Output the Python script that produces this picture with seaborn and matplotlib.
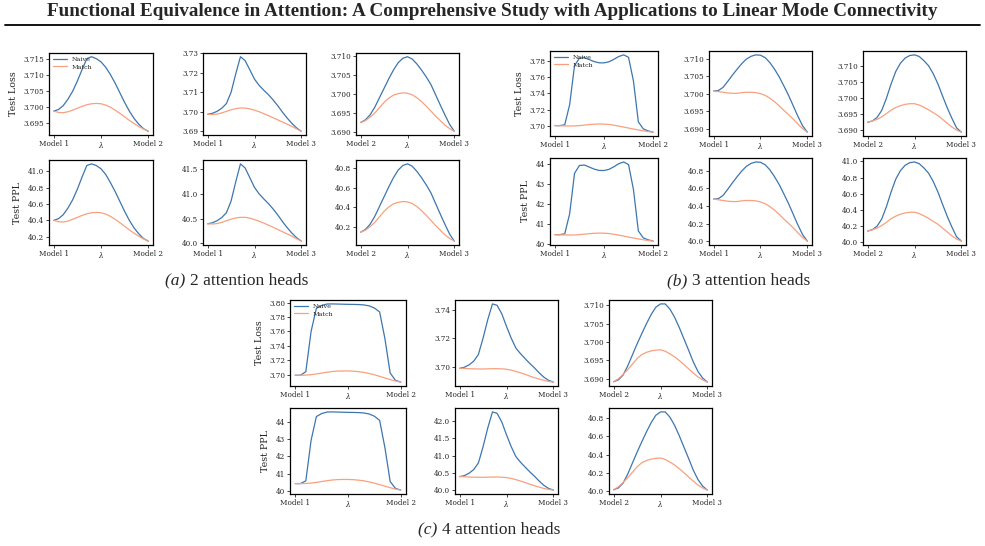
import pandas as pd
import matplotlib
matplotlib.use("Agg")
import matplotlib.pyplot as plt
import seaborn as sns
from matplotlib.lines import Line2D
from matplotlib.ticker import FixedLocator, FormatStrFormatter

# interpolation coefficient between two models
lam = [0.00, 0.05, 0.10, 0.15, 0.20, 0.25, 0.30, 0.35, 0.40, 0.45, 0.50,
       0.55, 0.60, 0.65, 0.70, 0.75, 0.80, 0.85, 0.90, 0.95, 1.00]

# ---- (a) 2 attention heads ----
a_loss_12_naive = [3.6988, 3.6993, 3.7005, 3.7025, 3.7050, 3.7082, 3.7118, 3.7152, 3.7158, 3.7152, 3.7142,
                   3.7125, 3.7102, 3.7075, 3.7045, 3.7015, 3.6988, 3.6965, 3.6947, 3.6933, 3.6925]
a_loss_12_match = [3.6988, 3.6984, 3.6983, 3.6986, 3.6991, 3.6997, 3.7003, 3.7008, 3.7011, 3.7012, 3.7011,
                   3.7007, 3.7000, 3.6991, 3.6981, 3.6970, 3.6959, 3.6949, 3.6940, 3.6932, 3.6925]
a_loss_13_naive = [3.6987, 3.6992, 3.7002, 3.7018, 3.7042, 3.7100, 3.7195, 3.7282, 3.7262, 3.7215, 3.7167,
                   3.7135, 3.7110, 3.7087, 3.7060, 3.7030, 3.6997, 3.6967, 3.6940, 3.6917, 3.6900]
a_loss_13_match = [3.6987, 3.6986, 3.6988, 3.6994, 3.7002, 3.7010, 3.7016, 3.7019, 3.7019, 3.7015, 3.7008,
                   3.7000, 3.6990, 3.6980, 3.6969, 3.6958, 3.6947, 3.6936, 3.6925, 3.6912, 3.6900]
a_loss_23_naive = [3.6925, 3.6932, 3.6945, 3.6965, 3.6990, 3.7015, 3.7040, 3.7063, 3.7082, 3.7094, 3.7098,
                   3.7092, 3.7079, 3.7063, 3.7045, 3.7025, 3.6998, 3.6971, 3.6945, 3.6920, 3.6902]
a_loss_23_match = [3.6925, 3.6930, 3.6939, 3.6950, 3.6964, 3.6978, 3.6989, 3.6997, 3.7001, 3.7003, 3.7002,
                   3.6998, 3.6990, 3.6980, 3.6968, 3.6955, 3.6942, 3.6930, 3.6918, 3.6909, 3.6902]
a_ppl_12_naive = [40.398, 40.419, 40.467, 40.548, 40.650, 40.780, 40.930, 41.070, 41.090, 41.070, 41.030,
                  40.960, 40.860, 40.750, 40.629, 40.508, 40.398, 40.305, 40.233, 40.176, 40.144]
a_ppl_12_match = [40.398, 40.382, 40.378, 40.390, 40.411, 40.435, 40.459, 40.479, 40.491, 40.496, 40.491,
                  40.475, 40.447, 40.411, 40.370, 40.326, 40.281, 40.241, 40.204, 40.172, 40.144]
a_ppl_13_naive = [40.394, 40.415, 40.455, 40.520, 40.617, 40.854, 41.244, 41.604, 41.521, 41.326, 41.128,
                  40.997, 40.894, 40.800, 40.690, 40.569, 40.435, 40.314, 40.205, 40.113, 40.044]
a_ppl_13_match = [40.394, 40.390, 40.398, 40.423, 40.455, 40.487, 40.512, 40.524, 40.524, 40.508, 40.479,
                  40.447, 40.407, 40.366, 40.322, 40.277, 40.233, 40.189, 40.145, 40.092, 40.044]
a_ppl_23_naive = [40.145, 40.173, 40.225, 40.306, 40.407, 40.508, 40.609, 40.703, 40.780, 40.829, 40.845,
                  40.821, 40.768, 40.703, 40.630, 40.548, 40.439, 40.330, 40.225, 40.125, 40.053]
a_ppl_23_match = [40.145, 40.165, 40.201, 40.245, 40.302, 40.358, 40.403, 40.435, 40.451, 40.459, 40.455,
                  40.439, 40.407, 40.366, 40.318, 40.265, 40.213, 40.165, 40.117, 40.081, 40.053]

# ---- (b) 3 attention heads ----
b_loss_12_naive = [3.7005, 3.7005, 3.7015, 3.7260, 3.7740, 3.7830, 3.7835, 3.7812, 3.7788, 3.7773, 3.7772,
                   3.7785, 3.7815, 3.7850, 3.7870, 3.7840, 3.7550, 3.7050, 3.6965, 3.6940, 3.6925]
b_loss_12_match = [3.7005, 3.7003, 3.7001, 3.7000, 3.7001, 3.7005, 3.7011, 3.7017, 3.7022, 3.7024, 3.7023,
                   3.7019, 3.7010, 3.6999, 3.6987, 3.6975, 3.6963, 3.6952, 3.6941, 3.6932, 3.6925]
b_loss_13_naive = [3.7008, 3.7009, 3.7018, 3.7035, 3.7053, 3.7070, 3.7086, 3.7099, 3.7107, 3.7111, 3.7110,
                   3.7103, 3.7089, 3.7070, 3.7048, 3.7022, 3.6995, 3.6965, 3.6935, 3.6908, 3.6890]
b_loss_13_match = [3.7008, 3.7006, 3.7004, 3.7002, 3.7001, 3.7001, 3.7003, 3.7004, 3.7004, 3.7003, 3.7000,
                   3.6995, 3.6987, 3.6977, 3.6965, 3.6952, 3.6940, 3.6927, 3.6913, 3.6900, 3.6890]
b_loss_23_naive = [3.6923, 3.6927, 3.6938, 3.6960, 3.6998, 3.7043, 3.7082, 3.7108, 3.7124, 3.7132, 3.7134,
                   3.7129, 3.7116, 3.7100, 3.7075, 3.7043, 3.7005, 3.6968, 3.6935, 3.6905, 3.6892]
b_loss_23_match = [3.6923, 3.6927, 3.6932, 3.6940, 3.6950, 3.6961, 3.6969, 3.6975, 3.6979, 3.6981, 3.6981,
                   3.6977, 3.6970, 3.6962, 3.6953, 3.6944, 3.6932, 3.6920, 3.6908, 3.6898, 3.6892]
b_ppl_12_naive = [40.467, 40.467, 40.508, 41.512, 43.554, 43.947, 43.969, 43.868, 43.763, 43.698, 43.693,
                  43.750, 43.881, 44.035, 44.124, 43.991, 42.734, 40.650, 40.306, 40.205, 40.145]
b_ppl_12_match = [40.467, 40.459, 40.451, 40.447, 40.451, 40.467, 40.492, 40.516, 40.536, 40.544, 40.540,
                  40.524, 40.487, 40.443, 40.395, 40.346, 40.298, 40.253, 40.209, 40.173, 40.145]
b_ppl_13_naive = [40.479, 40.483, 40.520, 40.589, 40.662, 40.731, 40.796, 40.849, 40.882, 40.898, 40.894,
                  40.866, 40.809, 40.731, 40.642, 40.536, 40.427, 40.306, 40.185, 40.077, 40.005]
b_ppl_13_match = [40.479, 40.471, 40.463, 40.455, 40.451, 40.451, 40.459, 40.463, 40.463, 40.459, 40.447,
                  40.427, 40.394, 40.354, 40.306, 40.253, 40.205, 40.153, 40.097, 40.044, 40.005]
b_ppl_23_naive = [40.137, 40.153, 40.197, 40.286, 40.439, 40.621, 40.780, 40.886, 40.952, 40.984, 40.993,
                  40.972, 40.919, 40.854, 40.751, 40.621, 40.467, 40.318, 40.185, 40.065, 40.013]
b_ppl_23_match = [40.137, 40.153, 40.173, 40.205, 40.245, 40.290, 40.322, 40.346, 40.362, 40.370, 40.370,
                  40.354, 40.326, 40.294, 40.257, 40.221, 40.173, 40.125, 40.077, 40.037, 40.013]

# ---- (c) 4 attention heads ----
c_loss_12_naive = [3.6990, 3.6990, 3.7040, 3.7600, 3.7920, 3.7960, 3.7980, 3.7982, 3.7980, 3.7978, 3.7976,
                   3.7975, 3.7973, 3.7968, 3.7955, 3.7925, 3.7870, 3.7500, 3.7020, 3.6920, 3.6895]
c_loss_12_match = [3.6990, 3.6990, 3.6992, 3.6998, 3.7008, 3.7020, 3.7032, 3.7042, 3.7048, 3.7050, 3.7050,
                   3.7047, 3.7040, 3.7030, 3.7015, 3.6997, 3.6975, 3.6952, 3.6930, 3.6910, 3.6895]
c_loss_13_naive = [3.6988, 3.6995, 3.7012, 3.7038, 3.7085, 3.7200, 3.7330, 3.7440, 3.7430, 3.7370, 3.7282,
                   3.7200, 3.7130, 3.7090, 3.7055, 3.7021, 3.6990, 3.6955, 3.6925, 3.6903, 3.6891]
c_loss_13_match = [3.6988, 3.6987, 3.6985, 3.6984, 3.6983, 3.6983, 3.6984, 3.6985, 3.6985, 3.6984, 3.6981,
                   3.6975, 3.6966, 3.6956, 3.6945, 3.6933, 3.6922, 3.6912, 3.6903, 3.6896, 3.6891]
c_loss_23_naive = [3.6892, 3.6897, 3.6910, 3.6935, 3.6965, 3.6995, 3.7023, 3.7050, 3.7075, 3.7095, 3.7104,
                   3.7104, 3.7090, 3.7068, 3.7040, 3.7009, 3.6978, 3.6946, 3.6920, 3.6902, 3.6891]
c_loss_23_match = [3.6892, 3.6900, 3.6912, 3.6925, 3.6940, 3.6955, 3.6966, 3.6972, 3.6976, 3.6978, 3.6979,
                   3.6975, 3.6968, 3.6960, 3.6950, 3.6939, 3.6927, 3.6916, 3.6905, 3.6897, 3.6891]
c_ppl_12_naive = [40.407, 40.407, 40.569, 42.948, 44.345, 44.523, 44.611, 44.620, 44.611, 44.602, 44.593,
                  44.589, 44.580, 44.558, 44.500, 44.367, 44.123, 42.521, 40.528, 40.125, 40.025]
c_ppl_12_match = [40.407, 40.407, 40.415, 40.439, 40.479, 40.528, 40.577, 40.617, 40.641, 40.650, 40.650,
                  40.637, 40.609, 40.569, 40.508, 40.435, 40.346, 40.254, 40.165, 40.085, 40.025]
c_ppl_13_naive = [40.398, 40.427, 40.496, 40.601, 40.792, 41.264, 41.804, 42.266, 42.224, 41.972, 41.604,
                  41.264, 40.976, 40.813, 40.670, 40.532, 40.407, 40.265, 40.145, 40.057, 40.009]
c_ppl_13_match = [40.398, 40.394, 40.386, 40.382, 40.378, 40.378, 40.382, 40.386, 40.386, 40.382, 40.370,
                  40.346, 40.310, 40.269, 40.225, 40.177, 40.133, 40.093, 40.057, 40.029, 40.009]
c_ppl_23_naive = [40.013, 40.033, 40.085, 40.185, 40.306, 40.427, 40.540, 40.650, 40.751, 40.833, 40.870,
                  40.870, 40.813, 40.723, 40.609, 40.483, 40.358, 40.229, 40.125, 40.053, 40.009]
c_ppl_23_match = [40.013, 40.045, 40.093, 40.145, 40.205, 40.265, 40.310, 40.334, 40.350, 40.358, 40.362,
                  40.346, 40.318, 40.286, 40.245, 40.201, 40.153, 40.109, 40.065, 40.033, 40.009]

pairs = [(1, 2), (1, 3), (2, 3)]
row_labels = ["Test Loss", "Test PPL"]

# y tick values and decimals for each row of each group
a_yticks = [[[3.695, 3.700, 3.705, 3.710, 3.715], [3.69, 3.70, 3.71, 3.72, 3.73], [3.690, 3.695, 3.700, 3.705, 3.710]],
            [[40.2, 40.4, 40.6, 40.8, 41.0], [40.0, 40.5, 41.0, 41.5], [40.2, 40.4, 40.6, 40.8]]]
a_ydec = [[3, 2, 3], [1, 1, 1]]
b_yticks = [[[3.70, 3.72, 3.74, 3.76, 3.78], [3.690, 3.695, 3.700, 3.705, 3.710], [3.690, 3.695, 3.700, 3.705, 3.710]],
            [[40, 41, 42, 43, 44], [40.0, 40.2, 40.4, 40.6, 40.8], [40.0, 40.2, 40.4, 40.6, 40.8, 41.0]]]
b_ydec = [[2, 3, 3], [0, 1, 1]]
c_yticks = [[[3.70, 3.72, 3.74, 3.76, 3.78, 3.80], [3.70, 3.72, 3.74], [3.690, 3.695, 3.700, 3.705, 3.710]],
            [[40, 41, 42, 43, 44], [40.0, 40.5, 41.0, 41.5, 42.0], [40.0, 40.2, 40.4, 40.6, 40.8]]]
c_ydec = [[2, 2, 3], [0, 1, 1]]

BLUE = "#3d76ae"
ORANGE = "#f8a07f"

sns.set_style("ticks")
plt.rcParams['font.family'] = ['DejaVu Serif']
plt.rcParams['mathtext.fontset'] = 'dejavuserif'

W, H = 985, 546
fig = plt.figure(figsize=(W / 100, H / 100), dpi=100)


def rect(l, t, w, h):
    return [l / W, 1 - (t + h) / H, w / W, h / H]


def panel(box, naive, match, pair, yticks, dec, ylabel=None, legend=False):
    ax = fig.add_axes(rect(*box))
    df = pd.DataFrame({"lam": lam + lam,
                       "val": naive + match,
                       "method": ["Naive"] * len(lam) + ["Match"] * len(lam)})
    sns.lineplot(data=df, x="lam", y="val", hue="method",
                 palette={"Naive": BLUE, "Match": ORANGE},
                 linewidth=0.9, legend=False, ax=ax)
    ax.set_xticks([0, 0.5, 1])
    ax.set_xticklabels([f"Model {pair[0]}", r"$\lambda$", f"Model {pair[1]}"])
    ax.yaxis.set_major_locator(FixedLocator(yticks))
    ax.yaxis.set_major_formatter(FormatStrFormatter(f"%.{dec}f"))
    ax.set_xlabel("")
    ax.set_ylabel(ylabel if ylabel else "", fontsize=6.8, labelpad=4)
    ax.tick_params(labelsize=5.2, length=2, width=0.6, pad=1.5)
    for s in ax.spines.values():
        s.set_linewidth(0.9)
        s.set_color("black")
    if legend:
        ax.legend(ax.lines[:2], ["Naive", "Match"], loc="upper left", fontsize=4.6,
                  frameon=False, handlelength=2.2, borderaxespad=0.2, labelspacing=0.3)
    return ax


groups = [
    ([a_loss_12_naive, a_loss_13_naive, a_loss_23_naive], [a_loss_12_match, a_loss_13_match, a_loss_23_match],
     [a_ppl_12_naive, a_ppl_13_naive, a_ppl_23_naive], [a_ppl_12_match, a_ppl_13_match, a_ppl_23_match],
     a_yticks, a_ydec,
     [49, 203, 356], [104, 103, 103], [(53, 82), (160, 85)]),
    ([b_loss_12_naive, b_loss_13_naive, b_loss_23_naive], [b_loss_12_match, b_loss_13_match, b_loss_23_match],
     [b_ppl_12_naive, b_ppl_13_naive, b_ppl_23_naive], [b_ppl_12_match, b_ppl_13_match, b_ppl_23_match],
     b_yticks, b_ydec,
     [550, 709, 863], [108, 103, 103], [(51, 85), (158, 87)]),
    ([c_loss_12_naive, c_loss_13_naive, c_loss_23_naive], [c_loss_12_match, c_loss_13_match, c_loss_23_match],
     [c_ppl_12_naive, c_ppl_13_naive, c_ppl_23_naive], [c_ppl_12_match, c_ppl_13_match, c_ppl_23_match],
     c_yticks, c_ydec,
     [290, 455, 609], [116, 103, 103], [(300, 86), (408, 86)]),
]

for loss_n, loss_m, ppl_n, ppl_m, yt, yd, lefts, widths, rows in groups:
    series = [(loss_n, loss_m), (ppl_n, ppl_m)]
    for r in range(2):
        top, hgt = rows[r]
        for c in range(3):
            panel((lefts[c], top, widths[c], hgt), series[r][0][c], series[r][1][c], pairs[c],
                  yt[r][c], yd[r][c],
                  ylabel=row_labels[r] if c == 0 else None,
                  legend=(r == 0 and c == 0))

# page header
fig.text(0.5, 1 - 12 / H,
         "Functional Equivalence in Attention: A Comprehensive Study with Applications to Linear Mode Connectivity",
         ha="center", va="center", fontsize=13.8, fontweight="bold", family="Liberation Serif")
fig.add_artist(Line2D([5 / W, 980 / W], [1 - 25 / H, 1 - 25 / H], color="black", lw=1.3))

# sub-captions
captions = [("(a)", "2 attention heads", 190, 281),
            ("(b)", "3 attention heads", 692, 281),
            ("(c)", "4 attention heads", 442, 530)]
for tag, txt, xs, ys in captions:
    fig.text(xs / W, 1 - ys / H, tag + " ", ha="right", va="center", fontsize=12.5,
             family="Liberation Serif", style="italic")
    fig.text(xs / W, 1 - ys / H, txt, ha="left", va="center", fontsize=12.5, family="Liberation Serif")

fig.savefig("out.png", dpi=100)
